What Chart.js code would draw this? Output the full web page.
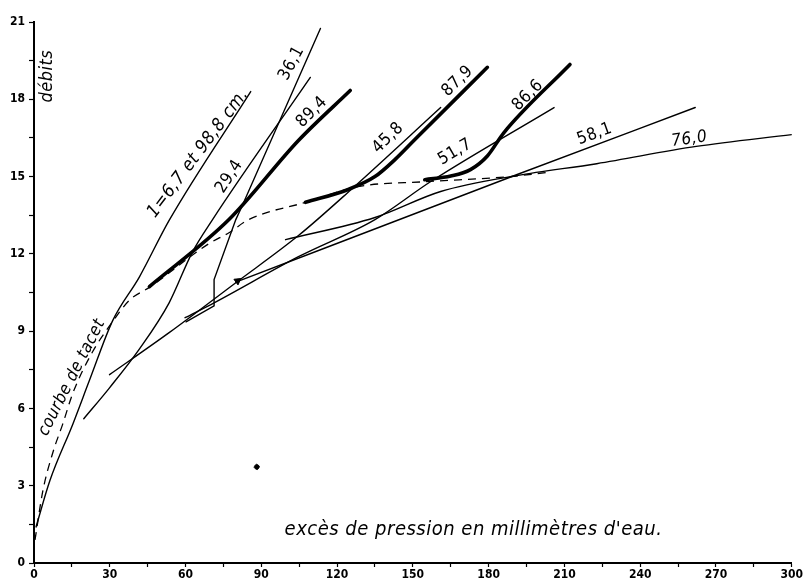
<!DOCTYPE html>
<html>
<head>
<meta charset="utf-8">
<script src="https://cdn.jsdelivr.net/npm/chart.js@4.4.0/dist/chart.umd.min.js"></script>
<style>
  html, body { margin: 0; padding: 0; background: #fff; }
  #wrap { width: 804px; height: 583px; }
</style>
</head>
<body>
<div id="wrap"><canvas id="graphique" width="804" height="583"></canvas></div>
<script>
// valeurs (x: excès de pression en mm d'eau, y: débits)

const tacetX = [0.4, 3.5, 7.5, 11.4, 15.4, 23.2, 29.9, 37.8, 45.7, 69.3, 77.2, 85, 108.7, 128.3, 154.7, 188.6, 203];
const tacetY = [0.9, 2.8, 4.3, 5.4, 6.6, 8.2, 9.2, 10.2, 10.7, 12.4, 12.82, 13.33, 14.03, 14.61, 14.8, 15.0, 15.16];

const c067X = [0.8, 6.3, 15.4, 22, 31.1, 41.7, 53.5, 85.8];
const c067Y = [1.4, 3.2, 5.4, 7.1, 9.4, 11.1, 13.3, 18.3];

const c294X = [19.7, 29.9, 41.7, 53.5, 62.6, 70.5, 109.4];
const c294Y = [5.6, 6.8, 8.3, 10.1, 12.05, 13.3, 18.85];

const c361X = [60.2, 71.3, 71.3, 79.9, 82.3, 113.4];
const c361Y = [9.36, 9.98, 11.0, 13.33, 13.84, 20.75];

const c458X = [29.9, 53.5, 79.9, 104.7, 125.6, 161];
const c458Y = [7.31, 8.94, 10.88, 12.71, 14.5, 17.68];

const c517X = [59.8, 71.3, 104.7, 135, 157.1, 205.9];
const c517Y = [9.52, 10.1, 11.89, 13.33, 14.81, 17.68];

const c581X = [79.9, 191.3, 261.8];
const c581Y = [10.9, 15.08, 17.68];

const c760X = [99.6, 135, 161, 191.3, 222.8, 262.2, 300];
const c760Y = [12.55, 13.41, 14.42, 15.04, 15.5, 16.17, 16.63];

const c894X = [45.7, 77.2, 104.7, 125.2];
const c894Y = [10.73, 13.33, 16.4, 18.34];

const c879X = [107.5, 124.4, 135, 142.9, 150.8, 179.5];
const c879Y = [14.0, 14.5, 15.0, 15.66, 16.44, 19.24];

const c866X = [154.7, 165, 172.8, 179.5, 186, 212.2];
const c866Y = [14.88, 15.02, 15.27, 15.8, 16.7, 19.35];

// flèche au départ de 58,1 et tache d'encre
const flecheX = [80.6];
const flecheY = [10.95];
const tacheX = [88.2];
const tacheY = [3.73];

const xTicks = [0, 30, 60, 90, 120, 150, 180, 210, 240, 270, 300];
const yTicks = [0, 3, 6, 9, 12, 15, 18, 21];

const ctx = document.getElementById('graphique').getContext('2d');

function pts(xs, ys) {
    return xs.map((x, i) => ({ x: x, y: ys[i] }));
}

function courbe(label, xs, ys, epais, extra) {
    return Object.assign({
        label: label,
        data: pts(xs, ys),
        showLine: true,
        borderColor: '#000',
        backgroundColor: '#000',
        borderWidth: epais,
        pointRadius: 0,
        cubicInterpolationMode: 'monotone',
        borderCapStyle: 'round'
    }, extra || {});
}

// textes posés le long des courbes
const textes = [
    { t: '1=6,7 et 98,8 cm.', x: 65.0, y: 15.9, a: -53, f: 'italic 18px' },
    { t: '29,4', x: 77.3, y: 15.0, a: -57, f: '17px' },
    { t: '36,1', x: 102, y: 19.4, a: -62, f: '17px' },
    { t: '89,4', x: 110, y: 17.5, a: -45, f: '17px' },
    { t: '45,8', x: 140.2, y: 16.5, a: -44, f: '17px' },
    { t: '87,9', x: 167.7, y: 18.7, a: -44, f: '17px' },
    { t: '51,7', x: 166.7, y: 15.95, a: -30, f: '17px' },
    { t: '86,6', x: 195.5, y: 18.15, a: -45, f: '17px' },
    { t: '58,1', x: 222, y: 16.65, a: -20, f: '17px' },
    { t: '76,0', x: 259.5, y: 16.45, a: -8, f: 'italic 17px' },
    { t: 'courbe de tacet', x: 15, y: 7.2, a: -63, f: 'italic 17px' },
    { t: 'débits', x: 5.2, y: 18.9, a: -90, f: 'italic 18px' },
    { t: 'excès de pression en millimètres d\'eau.', x: 174, y: 1.3, a: 0, f: 'italic 20px' }
];

const textPlugin = {
    id: 'textes',
    afterDatasetsDraw(chart) {
        const c = chart.ctx;
        const sx = chart.scales.x, sy = chart.scales.y;
        c.save();
        c.fillStyle = '#000';
        c.textAlign = 'center';
        c.textBaseline = 'middle';
        textes.forEach(l => {
            c.save();
            c.translate(sx.getPixelForValue(l.x), sy.getPixelForValue(l.y));
            c.rotate(l.a * Math.PI / 180);
            c.font = l.f + " 'DejaVu Sans Condensed', sans-serif";
            c.letterSpacing = '0.5px';
            c.fillText(l.t, 0, 0);
            c.restore();
        });
        c.restore();
    }
};

const config = {
    type: 'scatter',
    data: {
        datasets: [
            courbe('courbe de tacet', tacetX, tacetY, 1.3, { borderDash: [8, 6], borderCapStyle: 'butt' }),
            courbe('1=6,7 et 98,8', c067X, c067Y, 1.4),
            courbe('29,4', c294X, c294Y, 1.4),
            courbe('36,1', c361X, c361Y, 1.4, { cubicInterpolationMode: 'default', tension: 0 }),
            courbe('45,8', c458X, c458Y, 1.4),
            courbe('51,7', c517X, c517Y, 1.4),
            courbe('58,1', c581X, c581Y, 1.4),
            courbe('76,0', c760X, c760Y, 1.4),
            courbe('89,4', c894X, c894Y, 3.6),
            courbe('87,9', c879X, c879Y, 3.6),
            courbe('86,6', c866X, c866Y, 3.6),
            {
                label: 'flèche',
                data: pts(flecheX, flecheY),
                pointStyle: 'triangle',
                rotation: 54,
                pointRadius: 4,
                backgroundColor: '#000',
                borderColor: '#000',
                borderWidth: 1
            },
            {
                label: 'tache',
                data: pts(tacheX, tacheY),
                pointStyle: 'rectRounded',
                rotation: -55,
                pointRadius: 2.6,
                backgroundColor: '#000',
                borderColor: '#000',
                borderWidth: 1
            }
        ]
    },
    options: {
        responsive: false,
        animation: false,
        layout: { padding: { top: 22, right: 8, left: 0, bottom: 0 } },
        plugins: {
            legend: { display: false },
            tooltip: { enabled: false }
        },
        scales: {
            x: {
                type: 'linear',
                min: 0,
                max: 300,
                afterFit: function (s) { s.height = 20; },
                border: { display: true, color: '#000', width: 2 },
                grid: { drawOnChartArea: false, color: '#000', tickColor: '#000', tickLength: 4, tickWidth: 1.2 },
                ticks: {
                    stepSize: 15,
                    autoSkip: false,
                    maxRotation: 0,
                    padding: 1,
                    color: '#000',
                    font: { family: "'DejaVu Sans Condensed', sans-serif", size: 12, weight: 'bold' },
                    callback: function (v) { return xTicks.includes(v) ? v : ''; }
                }
            },
            y: {
                type: 'linear',
                min: 0,
                max: 21,
                afterFit: function (s) { s.width = 34; },
                border: { display: true, color: '#000', width: 2 },
                grid: { drawOnChartArea: false, color: '#000', tickColor: '#000', tickLength: 5, tickWidth: 1.2 },
                ticks: {
                    stepSize: 1.5,
                    autoSkip: false,
                    padding: 4,
                    color: '#000',
                    font: { family: "'DejaVu Sans Condensed', sans-serif", size: 12, weight: 'bold' },
                    callback: function (v) { return yTicks.includes(v) ? v : ''; }
                }
            }
        }
    },
    plugins: [textPlugin]
};

const monGraphique = new Chart(ctx, config);
</script>
</body>
</html>
